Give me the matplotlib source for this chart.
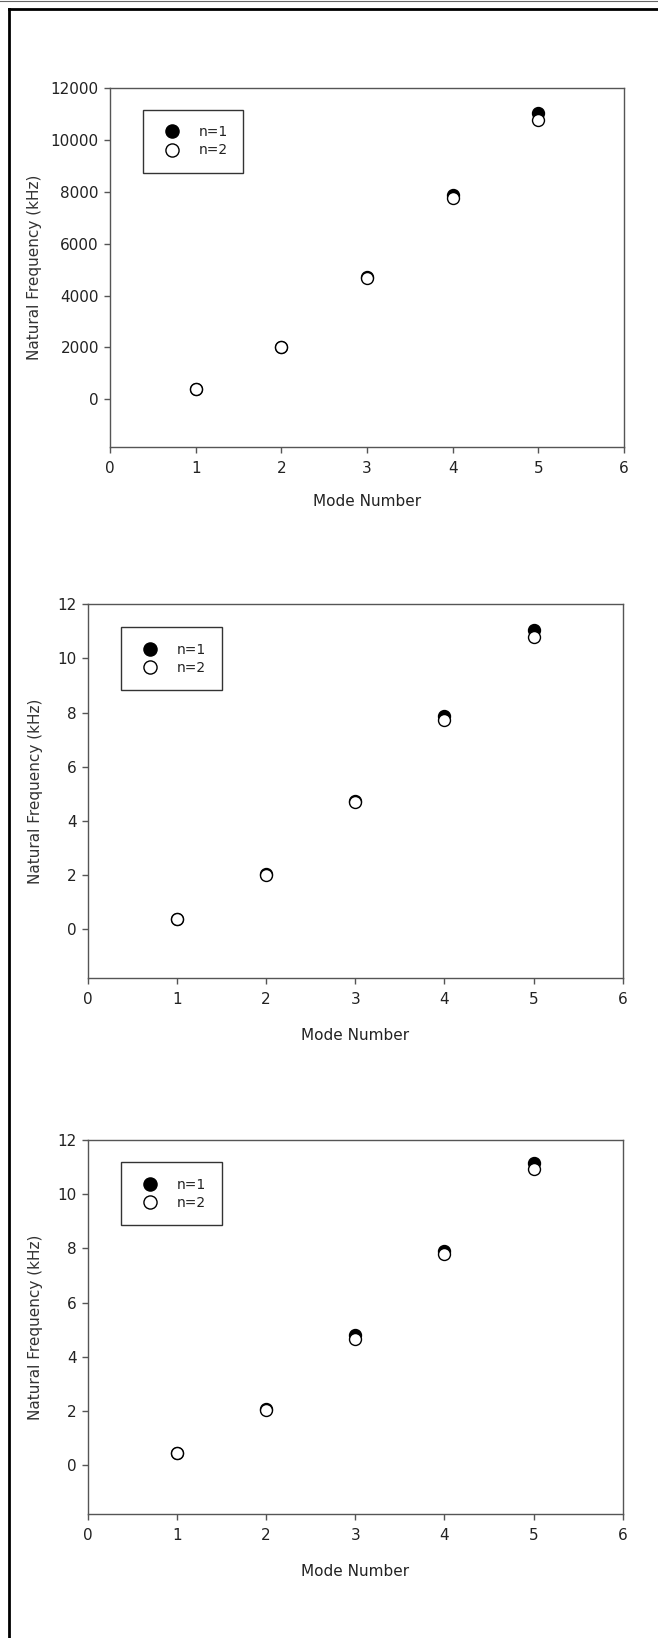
import matplotlib
matplotlib.use("Agg")
import matplotlib.pyplot as plt
from matplotlib.lines import Line2D

# Natural frequencies for the first five modes, three cases
modos = [1, 2, 3, 4, 5]

frec_a_n1 = [390, 2010, 4720, 7880, 11030]
frec_a_n2 = [385, 2005, 4680, 7760, 10780]

frec_b_n1 = [0.39, 2.03, 4.73, 7.88, 11.05]
frec_b_n2 = [0.38, 2.02, 4.69, 7.73, 10.78]

frec_c_n1 = [0.44, 2.05, 4.80, 7.91, 11.14]
frec_c_n2 = [0.43, 2.03, 4.65, 7.78, 10.92]

ticks_a = [0, 2000, 4000, 6000, 8000, 10000, 12000]
ticks_bc = [0, 2, 4, 6, 8, 10, 12]

W, H = 658, 1638
fig = plt.figure(figsize=(W / 100, H / 100), dpi=100)

gris = "#555555"
texto = "#222222"


def graficar_panel(rect, y1, y2, yticks, ymin, ymax, ylab_x, leg_xy):
    ax = fig.add_axes(rect)
    ax.plot(modos, y1, "o", color="black", markersize=8.6,
            markeredgewidth=1.0, label="n=1", zorder=3)
    ax.plot(modos, y2, "o", markerfacecolor="white", markeredgecolor="black",
            markersize=8.6, markeredgewidth=1.0, label="n=2", zorder=4)

    ax.set_xlim(0, 6)
    ax.set_ylim(ymin, ymax)
    ax.set_xticks(range(7))
    ax.set_yticks(yticks)

    for s in ax.spines.values():
        s.set_color(gris)
        s.set_linewidth(1.0)
    ax.tick_params(axis="both", direction="out", length=4, width=1.0,
                   color=gris, labelcolor=texto, labelsize=11)
    ax.tick_params(axis="x", pad=6)
    ax.tick_params(axis="y", pad=4)

    ax.set_xlabel("Mode Number", fontsize=11, color=texto)
    ax.set_ylabel("Natural Frequency (kHz)", fontsize=11, color="#333333")
    ax.xaxis.set_label_coords(0.5, -0.132)
    ax.yaxis.set_label_coords(ylab_x, 0.5)

    leg = ax.legend(loc="upper left", bbox_to_anchor=leg_xy, borderaxespad=0,
                    fancybox=False, framealpha=1, edgecolor="#333333",
                    fontsize=10, handlelength=2.0, handletextpad=0.95,
                    labelspacing=0.3, borderpad=1.1, numpoints=1,
                    markerscale=1.1)
    leg.get_frame().set_linewidth(1.0)
    for t in leg.get_texts():
        t.set_color(texto)
    return ax


graficar_panel([110 / W, 1 - 446.7 / H, 514 / W, 358.4 / H],
               frec_a_n1, frec_a_n2, ticks_a, -1830, 12000,
               -0.133, (0.0636, 0.9395))
graficar_panel([87.7 / W, 1 - 978.3 / H, 535 / W, 374 / H],
               frec_b_n1, frec_b_n2, ticks_bc, -1.81, 12,
               -0.084, (0.0622, 0.9385))
graficar_panel([87.7 / W, 1 - 1514.3 / H, 535 / W, 374.3 / H],
               frec_c_n1, frec_c_n2, ticks_bc, -1.82, 12,
               -0.084, (0.0622, 0.9404))

# outer frame: thin grey line on top, heavy black top and left edges
fig.add_artist(Line2D([0, 1], [1 - 0.5 / H, 1 - 0.5 / H],
                      transform=fig.transFigure, color="#666666", linewidth=0.8))
fig.add_artist(Line2D([9.3 / W, 1], [1 - 9.3 / H, 1 - 9.3 / H],
                      transform=fig.transFigure, color="black", linewidth=2.0))
fig.add_artist(Line2D([9.3 / W, 9.3 / W], [0, 1 - 9.3 / H],
                      transform=fig.transFigure, color="black", linewidth=2.0))

fig.savefig("out.png", dpi=100)
